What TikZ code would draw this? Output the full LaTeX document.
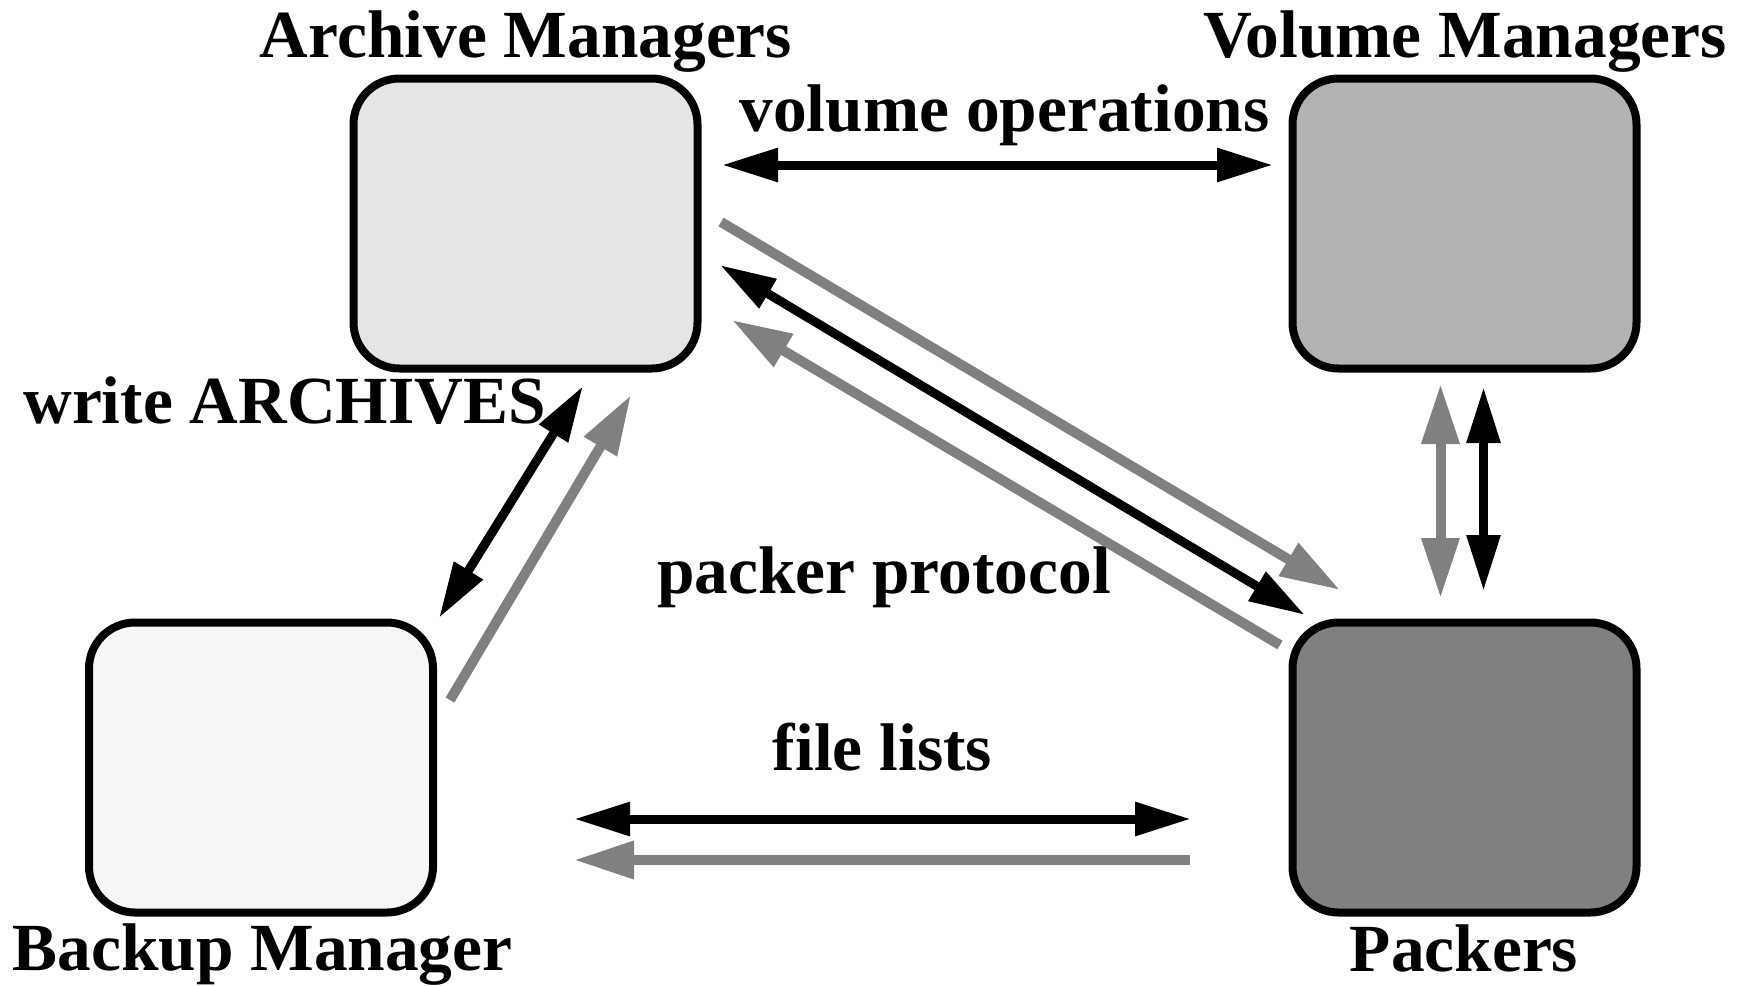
\documentclass[tikz,border=0pt]{standalone}
\usepackage{fontspec}
\setmainfont{Liberation Serif}
\usetikzlibrary{arrows.meta}
\definecolor{arrowgray}{HTML}{808080}
\definecolor{fillA}{HTML}{E5E5E5}
\definecolor{fillV}{HTML}{B3B3B3}
\definecolor{fillB}{HTML}{F6F6F6}
\definecolor{fillP}{HTML}{808080}
\tikzset{
  BlkTip/.tip={Triangle[length=28pt,width=16pt]},
  GryTip/.tip={Triangle[length=30pt,width=18pt]},
}
\begin{document}
\begin{tikzpicture}[x=0.5pt,y=-0.5pt,
  box/.style={draw=black, line width=4pt, rounded corners=23pt,
    minimum width=172pt, minimum height=145pt, inner sep=0pt},
  lbl/.style={font=\fontsize{33.7}{40}\selectfont\bfseries, inner sep=0pt, anchor=base},
  blk/.style={draw=black, line width=4.5pt},
  gry/.style={draw=arrowgray, line width=5pt},
]
\useasboundingbox (0,0) rectangle (1747,986);

% components
\node[box, fill=fillA] (arch) at (525.5,223.5) {};
\node[box, fill=fillV] (vol)  at (1464.5,223.5) {};
\node[box, fill=fillB] (back) at (261,767.5) {};
\node[box, fill=fillP] (pack) at (1464.5,767.5) {};

% titles and flow labels
\node[lbl] (tArch) at (526,57) {Archive Managers};
\node[lbl] (tVol)  at (1465,57) {Volume Managers};
\node[lbl] (tBack) at (262.5,970) {Backup Manager};
\node[lbl] (tPack) at (1464,971) {Packers};
\node[lbl] (lVolOp) at (1004.5,131.5) {volume operations};
\node[lbl, anchor=base west] (lWrite) at (23,423.5) {write ARCHIVES};
\node[lbl] (lPackP) at (884,593) {packer protocol};
\node[lbl] (lFiles) at (882.5,770) {file lists};

% connector end points
\coordinate (vo1) at (722,165);
\coordinate (vo2) at (1273,165);

\coordinate (pg1a) at (721,222);
\coordinate (pg1b) at (1340,590);
\coordinate (pk1) at (720,265);
\coordinate (pk2) at (1305,615);
\coordinate (pg2a) at (1280,645);
\coordinate (pg2b) at (732,320);

\coordinate (vg1) at (1440.5,384);
\coordinate (vg2) at (1440.5,598);
\coordinate (vb1) at (1483.5,387);
\coordinate (vb2) at (1483.5,591);

\coordinate (wb1) at (583,386);
\coordinate (wb2) at (439,618);
\coordinate (wg1) at (450,700);
\coordinate (wg2) at (631,395);

\coordinate (fb1) at (574,819);
\coordinate (fb2) at (1191,819);
\coordinate (fg1) at (1190,860);
\coordinate (fg2) at (574,860);

% volume operations
\draw[blk, BlkTip-BlkTip] (vo1) -- (vo2);

% packer protocol
\draw[gry, -GryTip] (pg1a) -- (pg1b);
\draw[blk, BlkTip-BlkTip] (pk1) -- (pk2);
\draw[gry, -GryTip] (pg2a) -- (pg2b);

% volume managers <-> packers
\draw[gry, GryTip-GryTip] (vg1) -- (vg2);
\draw[blk, BlkTip-BlkTip] (vb1) -- (vb2);

% write ARCHIVES
\draw[blk, BlkTip-BlkTip] (wb1) -- (wb2);
\draw[gry, -GryTip] (wg1) -- (wg2);

% file lists
\draw[blk, BlkTip-BlkTip] (fb1) -- (fb2);
\draw[gry, -GryTip] (fg1) -- (fg2);
\end{tikzpicture}
\end{document}
